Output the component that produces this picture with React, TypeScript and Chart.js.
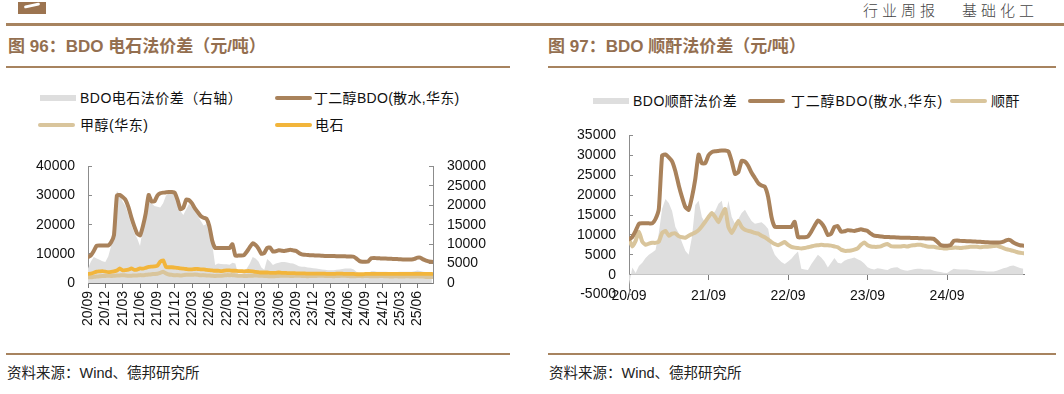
import React, { useEffect, useRef } from 'react';
import { Chart, registerables } from 'chart.js';

Chart.register(...registerables);

// Sampling grid: month offsets from 2020-09, half-month steps
const periods = Array.from({ length: 120 }, (_, i) => i / 2);

// 丁二醇BDO(散水,华东)
const bdoPrice = [
  8900, 9500, 11000, 12800, 12900, 12900, 12900, 12900, 14000, 16500,
  30000, 30200, 29500, 28500, 26000, 22500, 19500, 17000, 16300, 19500,
  24000, 30200, 28000, 28000, 30000, 30800, 31000, 31100, 31200, 31200,
  31000, 28500, 25300, 25800, 28600, 28400, 27300, 25600, 24300, 23000,
  22400, 22100, 19500, 14500, 12000, 12000, 12000, 12000, 12000, 12000,
  13300, 9400, 9400, 9400, 9600, 10800, 12300, 13600, 13000, 11800,
  10000, 10300, 12000, 12200, 10800, 10900, 11200, 11100, 11000, 11200,
  11400, 11200, 11000, 10300, 9800, 9700, 9600, 9500, 9500, 9400,
  9400, 9350, 9300, 9300, 9300, 9250, 9200, 9200, 9150, 9150,
  9100, 9100, 9000, 8300, 7500, 7300, 7300, 7400, 8500, 8600,
  8500, 8450, 8400, 8400, 8350, 8300, 8250, 8200, 8150, 8100,
  8100, 8100, 8100, 8300, 8700, 8700, 8100, 7700, 7400, 7300,
];

// 电石
const carbidePrice = [
  3100, 3200, 3500, 3900, 4000, 4100, 3900, 3700, 3800, 4000,
  4300, 5000, 4300, 4400, 4600, 5000, 4500, 4600, 5000, 4900,
  5200, 5500, 5600, 5700, 5900, 7300, 7800, 5500, 5400, 5400,
  5300, 5200, 5000, 4900, 4800, 4700, 4700, 4800, 4800, 4700,
  4700, 4500, 4400, 4300, 4200, 4200, 4100, 4200, 4300, 4300,
  4200, 4200, 4100, 4100, 4000, 4100, 4100, 4000, 3800, 3700,
  3600, 3600, 3600, 3500, 3500, 3500, 3600, 3500, 3500, 3400,
  3400, 3400, 3300, 3300, 3300, 3300, 3200, 3200, 3200, 3200,
  3200, 3200, 3200, 3100, 3100, 3100, 3200, 3200, 3200, 3100,
  3100, 3100, 3100, 3000, 3000, 3000, 3100, 3100, 3100, 3100,
  3100, 3100, 3100, 3100, 3100, 3100, 3100, 3100, 3100, 3100,
  3100, 3100, 3100, 3100, 3100, 3100, 3100, 3100, 3100, 3100,
];

// 甲醇(华东)
const methanolPrice = [
  2000, 2000, 2100, 2200, 2300, 2400, 2400, 2500, 2400, 2500,
  2600, 2600, 2700, 2600, 2500, 2500, 2600, 2600, 2700, 2700,
  2800, 2900, 3000, 3100, 3200, 3500, 3900, 3300, 2900, 2800,
  2700, 2700, 2600, 2700, 2800, 2800, 2800, 2900, 2800, 2700,
  2700, 2600, 2600, 2500, 2400, 2500, 2500, 2600, 2700, 2700,
  2700, 2600, 2500, 2500, 2400, 2400, 2500, 2500, 2600, 2500,
  2500, 2400, 2400, 2300, 2300, 2400, 2400, 2500, 2500, 2500,
  2400, 2400, 2500, 2500, 2400, 2400, 2300, 2400, 2400, 2400,
  2500, 2500, 2400, 2400, 2400, 2300, 2400, 2400, 2500, 2500,
  2400, 2300, 2300, 2400, 2400, 2300, 2400, 2400, 2300, 2300,
  2300, 2400, 2400, 2300, 2300, 2200, 2300, 2300, 2200, 2200,
  2300, 2300, 2200, 2200, 2300, 2200, 2200, 2100, 2100, 2100,
];

// BDO电石法价差（右轴）
const carbideSpread = [
  3700, 5500, 6700, 6300, 6000, 5600, 5400, 6800, 9500, 16000,
  23700, 22800, 21000, 19800, 17500, 15000, 13000, 11500, 9500, 14200,
  18000, 21700, 20500, 19800, 19600, 19400, 20500, 22500, 23000, 23100,
  22800, 20500, 18500, 17500, 19000, 20400, 19500, 18300, 17300, 16000,
  14800, 15200, 14500, 10000, 4600, 5000, 4900, 4800, 4800, 4700,
  5200, 5000, 2100, 2300, 2500, 3800, 5000, 6700, 6300, 5500,
  4000, 3400, 6200, 5500, 4600, 5000, 5200, 5400, 5400, 5300,
  5100, 5000, 4700, 4300, 4200, 4200, 4000, 3900, 3800, 3700,
  3600, 3500, 3400, 3300, 3300, 3300, 3400, 3500, 3600, 3700,
  3700, 3700, 3500, 2800, 2500, 2400, 2400, 2500, 3000, 3000,
  2900, 2900, 2900, 2900, 2800, 2800, 2800, 2800, 2900, 2900,
  2900, 2900, 2900, 3000, 3200, 3100, 2900, 2800, 2700, 2700,
];

// 顺酐
const maleicPrice = [
  8900, 7100, 8500, 10800, 8300, 7500, 7800, 8000, 8000, 8300,
  10500, 11000, 9800, 10300, 10400, 9700, 9400, 9300, 9800, 10200,
  10600, 11200, 12200, 13300, 14500, 15500, 14500, 13200, 15000, 16500,
  12000, 10500, 12000, 13500, 12000, 11300, 11000, 10800, 10500, 10300,
  9800, 9400, 8800, 8200, 7700, 7400, 7800, 8200, 7500, 7000,
  6800, 6700, 6600, 6700, 6900, 7100, 7300, 7400, 7500, 7400,
  7400, 7300, 7100, 6900, 6300, 6000, 6000, 6100, 6300, 6600,
  7500, 8100, 7400, 7100, 7000, 7000, 7100, 7500, 7700, 7200,
  7100, 7100, 7100, 7200, 7100, 7300, 7400, 7500, 7500, 7300,
  7100, 7000, 7000, 6800, 6700, 6600, 6600, 6700, 6800, 6800,
  6700, 6800, 6900, 7000, 7000, 7000, 6900, 7000, 7000, 7100,
  7200, 7300, 7000, 6700, 6400, 6200, 6000, 5700, 5500, 5400,
];

// BDO顺酐法价差
const maleicSpread = [
  -2500, 1800, 400, 2200, 3000, 4200, 5000, 5600, 6200, 10500,
  16600, 19000, 18000, 16000, 12000, 10400, 8100, 6000, 5000, 9500,
  17500, 18600, 14500, 13000, 14000, 15000, 16000, 17800, 18600, 14000,
  18600, 14500, 12800, 14000, 15500, 16300, 14800, 13500, 12800, 13000,
  13200, 12500, 11500, 7000, 5000, 4000, 3200, 2700, 3300, 4000,
  5000, 5800, 1500, 1300, 1200, 2600, 3800, 5000, 4300, 3300,
  1800, 3000, 4200, 3000, 2800, 3500, 3900, 4100, 4300, 3900,
  3500, 2800, 1900, 1500, 1300, 1600, 1500, 1300, 1200, 1600,
  1800, 1900, 1400, 1100, 1000, 1200, 1400, 1500, 1500, 1300,
  1300, 1300, 1000, 800, 700, 500, 400, 1000, 1500, 1400,
  1300, 1300, 1300, 1200, 1100, 1000, 1000, 900, 800, 800,
  800, 1000, 1300, 1600, 1800, 2200, 2300, 2000, 1700, 1500,
];

const leftTickMonths = [0, 3, 6, 9, 12, 15, 18, 21, 24, 27, 30, 33, 36, 39, 42, 45, 48, 51, 54, 57];
const leftTickLabels = [
  '20/09', '20/12', '21/03', '21/06', '21/09', '21/12', '22/03', '22/06', '22/09', '22/12',
  '23/03', '23/06', '23/09', '23/12', '24/03', '24/06', '24/09', '24/12', '25/03', '25/06',
];
const rightTickMonths = [0, 12, 24, 36, 48];
const rightTickLabels = ['20/09', '21/09', '22/09', '23/09', '24/09'];

const BROWN = '#A9825B';
const TAN = '#D9C59C';
const ORANGE = '#F2B53B';
const GRAY = '#DEDEDE';
const RULE = '#A7835F';
const TITLE = '#946F50';
const AXIS = '#8C8C8C';
const tickFont = { family: '"Liberation Sans", Arial, sans-serif', size: 14 };
const FONT = '"Liberation Sans", Arial, "Noto Sans CJK SC", sans-serif';

const toPoints = (vals: number[]) => vals.map((v, i) => ({ x: periods[i], y: v }));
const plain = (v: any) => String(v);

const lineDs = (label: string, vals: number[], color: string, order: number, yAxisID = 'y', width = 4) => ({
  label,
  data: toPoints(vals),
  yAxisID,
  borderColor: color,
  backgroundColor: color,
  borderWidth: width,
  pointRadius: 0,
  tension: 0.15,
  borderJoinStyle: 'round' as const,
  borderCapStyle: 'round' as const,
  fill: false,
  order,
});

function LeftChart() {
  const ref = useRef<HTMLCanvasElement | null>(null);
  useEffect(() => {
    if (!ref.current) return;
    const chart = new Chart(ref.current, {
      type: 'line',
      data: {
        datasets: [
          {
            label: 'BDO电石法价差（右轴）',
            data: toPoints(carbideSpread),
            yAxisID: 'y1',
            fill: 'origin',
            backgroundColor: GRAY,
            borderColor: GRAY,
            borderWidth: 0,
            pointRadius: 0,
            tension: 0,
            order: 10,
          } as any,
          lineDs('丁二醇BDO(散水,华东)', bdoPrice, BROWN, 1),
          lineDs('甲醇(华东)', methanolPrice, TAN, 3),
          lineDs('电石', carbidePrice, ORANGE, 2, 'y', 3.8),
        ],
      },
      options: {
        responsive: false,
        animation: false,
        devicePixelRatio: 1,
        layout: { padding: { top: 23, left: 0, right: 0, bottom: 0 } },
        plugins: { legend: { display: false }, tooltip: { enabled: false } },
        scales: {
          x: {
            type: 'linear',
            min: 0,
            max: 59.7,
            afterBuildTicks: (s: any) => {
              s.ticks = leftTickMonths.map((v) => ({ value: v }));
            },
            afterFit: (s: any) => {
              s.height = 67;
            },
            ticks: {
              autoSkip: false,
              minRotation: 90,
              maxRotation: 90,
              padding: 3,
              font: tickFont,
              color: '#111',
              callback: (v: any) => {
                const i = leftTickMonths.indexOf(Number(v));
                return i >= 0 ? leftTickLabels[i] : '';
              },
            },
            grid: { drawOnChartArea: false, tickLength: 5, color: '#7a7a7a' },
            border: { color: '#7a7a7a' },
          },
          y: {
            position: 'left',
            min: 0,
            max: 40000,
            afterFit: (s: any) => {
              s.width = 88;
            },
            ticks: { stepSize: 10000, autoSkip: false, padding: 17, font: tickFont, color: '#111', callback: plain },
            grid: { drawOnChartArea: false, tickLength: -4, color: AXIS },
            border: { color: AXIS },
          },
          y1: {
            position: 'right',
            min: 0,
            max: 30000,
            afterFit: (s: any) => {
              s.width = 97;
            },
            ticks: { stepSize: 5000, autoSkip: false, padding: 18, font: tickFont, color: '#111', callback: plain },
            grid: { drawOnChartArea: false, tickLength: -4, color: AXIS },
            border: { color: AXIS },
          },
        },
      } as any,
    });
    return () => chart.destroy();
  }, []);
  return <canvas ref={ref} width={530} height={210} style={{ position: 'absolute', left: 0, top: 140 }} />;
}

function RightChart() {
  const ref = useRef<HTMLCanvasElement | null>(null);
  useEffect(() => {
    if (!ref.current) return;
    const chart = new Chart(ref.current, {
      type: 'line',
      data: {
        datasets: [
          {
            label: 'BDO顺酐法价差',
            data: toPoints(maleicSpread),
            fill: 'origin',
            backgroundColor: GRAY,
            borderColor: GRAY,
            borderWidth: 0,
            pointRadius: 0,
            tension: 0,
            order: 10,
          } as any,
          lineDs('丁二醇BDO(散水,华东)', bdoPrice, BROWN, 1),
          lineDs('顺酐', maleicPrice, TAN, 2),
        ],
      },
      options: {
        responsive: false,
        animation: false,
        devicePixelRatio: 1,
        layout: { padding: { top: 23.3, left: 0, right: 40, bottom: 15.3 } },
        plugins: { legend: { display: false }, tooltip: { enabled: false } },
        scales: {
          x: {
            type: 'linear',
            min: 0,
            max: 59.6,
            position: { y: 0 },
            afterBuildTicks: (s: any) => {
              s.ticks = rightTickMonths.map((v) => ({ value: v }));
            },
            ticks: {
              autoSkip: false,
              maxRotation: 0,
              minRotation: 0,
              padding: 8,
              font: tickFont,
              color: '#111',
              callback: (v: any) => {
                const i = rightTickMonths.indexOf(Number(v));
                return i >= 0 ? rightTickLabels[i] : '';
              },
            },
            grid: { drawOnChartArea: false, tickLength: 5, color: '#7a7a7a' },
            border: { color: '#7a7a7a' },
          },
          y: {
            position: 'left',
            min: -5000,
            max: 35000,
            afterFit: (s: any) => {
              s.width = 99;
            },
            ticks: { stepSize: 5000, autoSkip: false, padding: 17, font: tickFont, color: '#111', callback: plain },
            grid: { drawOnChartArea: false, tickLength: -4, color: AXIS },
            border: { color: AXIS },
          },
        },
      } as any,
    });
    return () => chart.destroy();
  }, []);
  return <canvas ref={ref} width={534} height={210} style={{ position: 'absolute', left: 530, top: 110 }} />;
}

const abs = (s: React.CSSProperties): React.CSSProperties => ({ position: 'absolute', ...s });

function Swatch({ x, y, kind, color }: { x: number; y: number; kind: 'box' | 'line'; color: string }) {
  if (kind === 'box') return <div style={abs({ left: x, top: y - 3, width: 36, height: 6, background: color })} />;
  return <div style={abs({ left: x, top: y - 2, width: 37, height: 4, borderRadius: 2, background: color })} />;
}

function LegendText({ x, y, text, ls = 0.5 }: { x: number; y: number; text: string; ls?: number }) {
  return (
    <div style={abs({ left: x, top: y - 10, height: 20, lineHeight: '20px', fontSize: 14, letterSpacing: ls, color: '#111', whiteSpace: 'nowrap', fontFamily: FONT })}>
      {text}
    </div>
  );
}

export default function App() {
  return (
    <div style={abs({ left: 0, top: 0, width: 1064, height: 394, background: '#fff', overflow: 'hidden', fontFamily: FONT })}>
      {/* page header */}
      <div style={abs({ left: 18, top: 2, width: 28, height: 12, background: '#9C7450' })} />
      <div style={abs({ left: 24, top: 4, width: 16, height: 3, borderRadius: 2, background: '#fff', transform: 'rotate(-12deg)' })} />
      <div style={abs({ left: 863, top: 1, fontSize: 15, lineHeight: '17px', letterSpacing: 4, color: '#444', whiteSpace: 'nowrap', fontFamily: '"Noto Sans CJK SC", sans-serif', fontWeight: 300 })}>行业周报</div>
      <div style={abs({ left: 962, top: 1, fontSize: 15, lineHeight: '17px', letterSpacing: 4, color: '#444', whiteSpace: 'nowrap', fontFamily: '"Noto Sans CJK SC", sans-serif', fontWeight: 300 })}>基础化工</div>
      <div style={abs({ left: 6, top: 23, width: 1058, height: 3, background: RULE })} />

      {/* titles */}
      <div style={abs({ left: 8, top: 36, fontSize: 17, lineHeight: '22px', fontWeight: 'bold', color: TITLE, whiteSpace: 'nowrap' })}>图 96：BDO 电石法价差（元/吨）</div>
      <div style={abs({ left: 6, top: 66, width: 504, height: 2, background: RULE })} />
      <div style={abs({ left: 548, top: 36, fontSize: 17, lineHeight: '22px', fontWeight: 'bold', color: TITLE, whiteSpace: 'nowrap' })}>图 97：BDO 顺酐法价差（元/吨）</div>
      <div style={abs({ left: 548, top: 66, width: 508, height: 2, background: RULE })} />

      {/* left legend */}
      <Swatch x={40} y={98} kind="box" color={GRAY} />
      <LegendText x={80} y={98} text="BDO电石法价差（右轴）" />
      <Swatch x={275} y={98} kind="line" color={BROWN} />
      <LegendText x={314} y={98} text="丁二醇BDO(散水,华东)" ls={0.3} />
      <Swatch x={38} y={125} kind="line" color={TAN} />
      <LegendText x={80} y={125} text="甲醇(华东)" />
      <Swatch x={275} y={125} kind="line" color={ORANGE} />
      <LegendText x={315} y={125} text="电石" />

      {/* right legend */}
      <Swatch x={593} y={101} kind="box" color={GRAY} />
      <LegendText x={633} y={101} text="BDO顺酐法价差" />
      <Swatch x={748} y={101} kind="line" color={BROWN} />
      <LegendText x={791} y={101} text="丁二醇BDO(散水,华东)" ls={0.8} />
      <Swatch x={950} y={101} kind="line" color={TAN} />
      <LegendText x={991} y={101} text="顺酐" />

      <LeftChart />
      <RightChart />

      {/* footers */}
      <div style={abs({ left: 6, top: 353, width: 504, height: 2, background: RULE })} />
      <div style={abs({ left: 548, top: 353, width: 508, height: 2, background: RULE })} />
      <div style={abs({ left: 7, top: 363, fontSize: 14.5, lineHeight: '20px', color: '#222', whiteSpace: 'nowrap' })}>资料来源：Wind、德邦研究所</div>
      <div style={abs({ left: 549, top: 363, fontSize: 14.5, lineHeight: '20px', color: '#222', whiteSpace: 'nowrap' })}>资料来源：Wind、德邦研究所</div>
    </div>
  );
}
